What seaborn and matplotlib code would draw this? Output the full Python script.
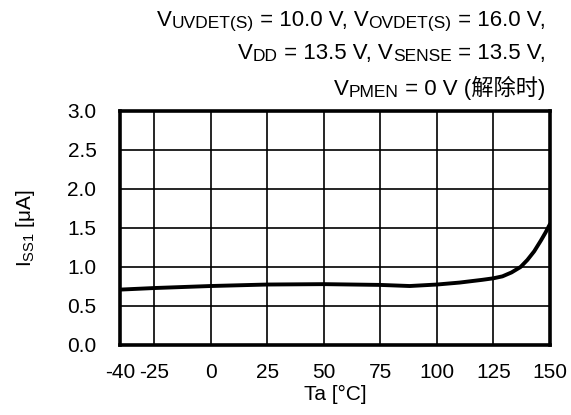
import matplotlib
matplotlib.use("Agg")
import matplotlib.pyplot as plt
import seaborn as sns
from matplotlib.offsetbox import TextArea, HPacker, VPacker, AnchoredOffsetbox

# DATA
temps = [-40, -25, 0, 25, 50, 75, 88, 100, 110, 120, 125, 129, 133, 137, 140, 143, 146, 148, 150]
iss1 = [0.71, 0.73, 0.756, 0.775, 0.78, 0.77, 0.756, 0.775, 0.80, 0.835, 0.855, 0.88, 0.93, 1.0, 1.09, 1.2, 1.34, 1.44, 1.55]
x_ticks = [-40, -25, 0, 25, 50, 75, 100, 125, 150]
y_ticks = [0.0, 0.5, 1.0, 1.5, 2.0, 2.5, 3.0]

# STYLE
sns.set_style("white")
plt.rcParams['font.family'] = ['Liberation Sans', 'Noto Sans CJK SC', 'DejaVu Sans']
plt.rcParams['mathtext.fontset'] = 'custom'
plt.rcParams['mathtext.rm'] = 'Liberation Sans'
plt.rcParams['mathtext.it'] = 'Liberation Sans'
plt.rcParams['axes.unicode_minus'] = False

FS = 15
TFS = 16
SUB = 12.5

fig = plt.figure(figsize=(5.71, 4.15), dpi=100)
ax = fig.add_axes([0.2102, 0.1687, 0.753, 0.5639])

sns.lineplot(x=temps, y=iss1, ax=ax, color='black', linewidth=2.8)

ax.set_xlim(-40, 150)
ax.set_ylim(0, 3)
ax.set_xticks(x_ticks)
ax.set_yticks(y_ticks)
ax.set_yticklabels([f"{v:.1f}" for v in y_ticks])
ax.grid(True, color='black', linewidth=1.2)
ax.set_axisbelow(True)
for s in ax.spines.values():
    s.set_visible(True)
    s.set_color('black')
    s.set_linewidth(2.6)
ax.tick_params(axis='both', length=0, labelsize=FS, labelcolor='black')
ax.tick_params(axis='y', pad=17)
ax.tick_params(axis='x', pad=13)
ax.set_xlabel("Ta [°C]", fontsize=FS, labelpad=2, color='black')
ax.set_ylabel(r"I$_{\mathrm{SS1}}$ [μA]", fontsize=FS, labelpad=22, color='black')


# TITLE with subscripts
def piece(txt, size):
    return TextArea(txt, textprops=dict(fontsize=size, color='black',
                                        family=['Liberation Sans', 'Noto Sans CJK SC', 'DejaVu Sans']))


def line(parts):
    kids = [piece(t, SUB if sub else TFS) for t, sub in parts]
    return HPacker(children=kids, align="bottom", pad=0, sep=0)


l1 = line([("V", False), ("UVDET(S)", True), (" = 10.0 V, V", False), ("OVDET(S)", True), (" = 16.0 V,", False)])
l2 = line([("V", False), ("DD", True), (" = 13.5 V, V", False), ("SENSE", True), (" = 13.5 V,", False)])
l3 = line([("V", False), ("PMEN", True), (" = 0 V (解除时)", False)])
block = VPacker(children=[l1, l2, l3], align="right", pad=0, sep=8.5)
anch = AnchoredOffsetbox(loc='upper right', child=block, frameon=False, pad=0, borderpad=0,
                         bbox_to_anchor=(0.955, 0.975), bbox_transform=fig.transFigure)
fig.add_artist(anch)

plt.savefig('out.png', dpi=100)
